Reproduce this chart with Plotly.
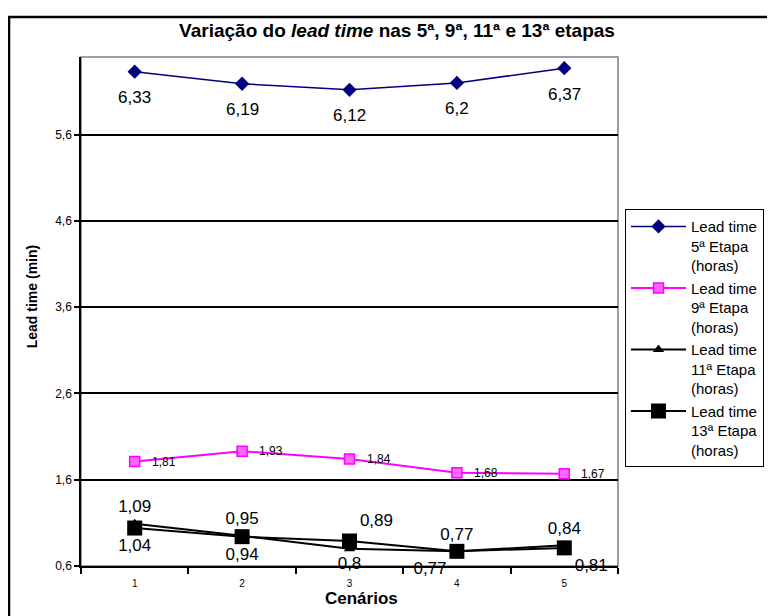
import plotly.graph_objects as go

# ---- data ----
cenarios = ["1", "2", "3", "4", "5"]
lt_5 = [6.33, 6.19, 6.12, 6.2, 6.37]
lt_9 = [1.81, 1.93, 1.84, 1.68, 1.67]
lt_11 = [1.09, 0.95, 0.80, 0.77, 0.84]
lt_13 = [1.04, 0.94, 0.89, 0.77, 0.81]
y_tick_vals = [0.6, 1.6, 2.6, 3.6, 4.6, 5.6]
y_tick_text = ["0,6", "1,6", "2,6", "3,6", "4,6", "5,6"]
series_names = [
    "Lead time<br>5ª Etapa<br>(horas)",
    "Lead time<br>9ª Etapa<br>(horas)",
    "Lead time<br>11ª Etapa<br>(horas)",
    "Lead time<br>13ª Etapa<br>(horas)",
]
title_text = "<b>Variação do <i>lead time</i> nas 5ª, 9ª, 11ª e 13ª etapas</b>"
x_title = "<b>Cenários</b>"
y_title = "<b>Lead time (min)</b>"

# label placement (style only)
pos_11 = ["top center", "top center", "bottom center", "top center", "top center"]
pos_13 = ["bottom center", "bottom center", "top right", "bottom left", "bottom right"]

FONT = "Liberation Sans, Arial, sans-serif"


def fmt(v):
    return f"{v:g}".replace(".", ",")


fig = go.Figure()

fig.add_trace(go.Scatter(
    x=cenarios, y=lt_5, name=series_names[0], mode="lines+markers",
    line=dict(color="#000080", width=1.5),
    marker=dict(symbol="diamond", size=11, color="#000080"),
))
fig.add_trace(go.Scatter(
    x=cenarios, y=lt_9, name=series_names[1], mode="lines+markers",
    line=dict(color="#FF00FF", width=2),
    marker=dict(symbol="square", size=10, color="#FF66FF",
                line=dict(color="#FF00FF", width=1.5)),
))
fig.add_trace(go.Scatter(
    x=cenarios, y=lt_11, name=series_names[2], mode="lines+markers+text",
    line=dict(color="black", width=2),
    marker=dict(symbol="triangle-up", size=10, color="black"),
    text=[fmt(v) for v in lt_11], textposition=pos_11,
    textfont=dict(family=FONT, size=17, color="black"), cliponaxis=False,
))
fig.add_trace(go.Scatter(
    x=cenarios, y=lt_13, name=series_names[3], mode="lines+markers+text",
    line=dict(color="black", width=2),
    marker=dict(symbol="square", size=15, color="black"),
    text=[fmt(v) for v in lt_13], textposition=pos_13,
    textfont=dict(family=FONT, size=17, color="black"), cliponaxis=False,
))

annotations = []
for i, v in enumerate(lt_5):
    annotations.append(dict(
        x=i, y=v, xref="x", yref="y", text=fmt(v), showarrow=False,
        yshift=-26, font=dict(family=FONT, size=17, color="black"),
    ))
for i, v in enumerate(lt_9):
    annotations.append(dict(
        x=i, y=v, xref="x", yref="y", text=fmt(v), showarrow=False,
        xanchor="left", yanchor="middle", xshift=15,
        font=dict(family=FONT, size=12, color="black"),
    ))
annotations.append(dict(
    x=-0.0912, y=0.528, xref="paper", yref="paper", text=y_title,
    xanchor="center", yanchor="middle",
    textangle=-90, showarrow=False, font=dict(family=FONT, size=14, color="black"),
))
annotations.append(dict(
    x=0.523, y=-0.063, xref="paper", yref="paper", text=x_title,
    xanchor="center", yanchor="middle",
    showarrow=False, font=dict(family=FONT, size=17, color="black"),
))

shapes = [
    # plot-area frame (grey)
    dict(type="rect", xref="paper", yref="paper", x0=0, x1=1, y0=0, y1=1,
         line=dict(color="#808080", width=1.5), layer="below"),
    # outer chart frame
    dict(type="rect", xref="paper", yref="paper", x0=-0.134, x1=1.6,
         y0=-0.4, y1=1.0786, line=dict(color="black", width=2.5)),
]

fig.update_layout(
    width=775, height=616,
    margin=dict(l=73, r=165, t=49, b=58),
    paper_bgcolor="white", plot_bgcolor="white",
    font=dict(family=FONT, color="black"),
    separators=",.",
    title=dict(text=title_text, x=389 / 775, y=1 - 22 / 616, xanchor="center",
               yanchor="middle", font=dict(family=FONT, size=19, color="black")),
    legend=dict(x=1.013, y=0.701, xanchor="left", yanchor="top",
                bordercolor="black", borderwidth=1, bgcolor="white",
                font=dict(family=FONT, size=15, color="black"),
                valign="top", itemwidth=55, tracegroupgap=0),
    annotations=annotations,
    shapes=shapes,
    showlegend=True,
)

fig.update_xaxes(
    type="category", range=[-0.5, 4.5],
    showline=True, linecolor="black", linewidth=2,
    ticks="outside", ticklen=6, tickcolor="black", tickwidth=1.5,
    tickson="boundaries", ticklabelstandoff=7,
    tickfont=dict(family=FONT, size=10, color="black"),
    showgrid=False, zeroline=False,
)
fig.update_yaxes(
    range=[0.6, 6.5], tickvals=y_tick_vals, ticktext=y_tick_text,
    showline=True, linecolor="black", linewidth=1.5,
    ticks="outside", ticklen=5, tickcolor="black", tickwidth=1.5,
    tickfont=dict(family=FONT, size=12, color="black"),
    showgrid=True, gridcolor="black", gridwidth=1.5, zeroline=False,
)

fig.write_html("out.html")
